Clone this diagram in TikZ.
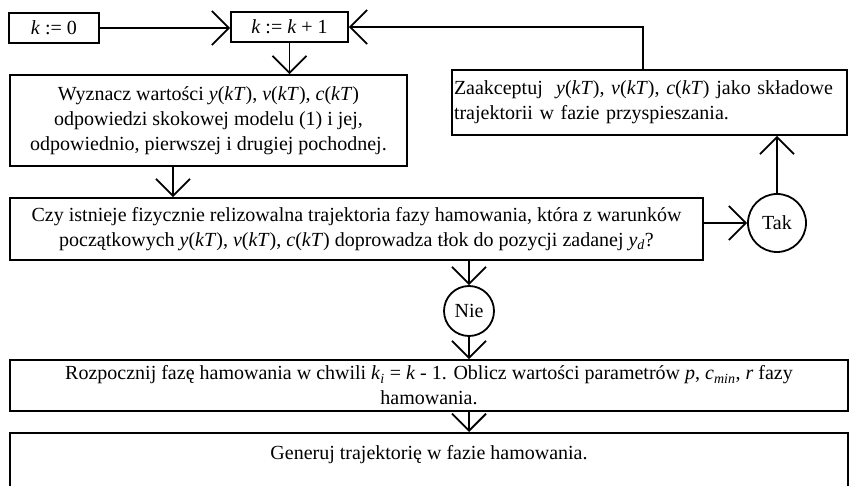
\documentclass[tikz,border=0pt]{standalone}
\usepackage{fontspec}
\setmainfont{Liberation Serif}
\usetikzlibrary{arrows.meta}

\newcommand{\iv}[1]{\textit{#1}}
\newcommand{\kT}[1]{\textit{#1}(\textit{kT})}

\begin{document}
\begin{tikzpicture}[x=1pt, y=-1pt,
    >={Straight Barb[length=17pt, width=34pt]},
    every node/.style={font=\fontsize{20}{25}\selectfont},
    box/.style={draw, line width=1.8pt, rectangle, inner sep=0pt, align=center},
    circ/.style={draw, line width=1.8pt, circle, inner sep=0pt},
    link/.style={->, line width=1.8pt}]

    % Frame of the page
    \useasboundingbox (0,0) rectangle (849,486);
    \clip (0,0) rectangle (849,486);

    % Helper points for the connectors
    \coordinate (loop) at (643,27);
    \coordinate (down) at (173,0);

    % Boxes
    \node[box, minimum width=90, minimum height=30] (kzero) at (54,28) {\iv{k} := 0};
    \node[box, minimum width=117, minimum height=30] (kinc) at (289.5,27) {\iv{k} := \iv{k} + 1};
    \node[box, minimum width=397, minimum height=91] (wyz) at (208.5,120.5)
        {Wyznacz wartości \kT{y}, \kT{v}, \kT{c}\\
         odpowiedzi skokowej modelu (1) i jej,\\
         odpowiednio, pierwszej i drugiej pochodnej.};
    \node[box, text width=391, inner xsep=2pt, align=left, minimum height=65] (zaak) at (649.5,102.5)
        {Zaakceptuj~ \kT{y}, \kT{v}, \kT{c} jako składowe\\
         trajektorii w fazie przyspieszania.};
    \node[box, minimum width=693, minimum height=62] (czy) at (356.5,229)
        {Czy istnieje fizycznie relizowalna trajektoria fazy hamowania, która z warunków\\
         początkowych \kT{y}, \kT{v}, \kT{c} doprowadza tłok do pozycji zadanej \iv{y}\textsubscript{\iv{d}}?};
    \node[box, minimum width=838, minimum height=51] (roz) at (429,385.5)
        {Rozpocznij fazę hamowania w chwili \iv{k}\textsubscript{\iv{i}} = \iv{k} - 1. Oblicz wartości parametrów \iv{p}, \iv{c}\textsubscript{\iv{min}}, \iv{r} fazy\\
         hamowania.};
    \node[box, minimum width=838, anchor=north, inner ysep=13pt, text depth=40pt] (gen) at (429,432)
        {Generuj trajektorię w fazie hamowania.};

    % Decisions
    \node[circ, minimum size=58] (tak) at (777,223) {Tak};
    \node[circ, minimum size=50] (nie) at (469,311) {Nie};

    % Connectors
    \draw[link] (kzero.east) -- (kzero.east -| kinc.west);
    \draw[link] (zaak.north -| loop) -- (loop) -- (kinc.east |- loop);
    \draw[link] (kinc.south) -- (wyz.north -| kinc.south);
    \draw[link] (wyz.south -| down) -- (czy.north -| down);
    \draw[link] (czy.east |- tak.west) -- (tak.west);
    \draw[link] (tak.north) -- (zaak.south -| tak.north);
    \draw[link] (czy.south -| nie.north) -- (nie.north);
    \draw[link] (nie.south) -- (roz.north -| nie.south);
    \draw[link] (roz.south -| nie.south) -- (gen.north -| nie.south);

\end{tikzpicture}
\end{document}
